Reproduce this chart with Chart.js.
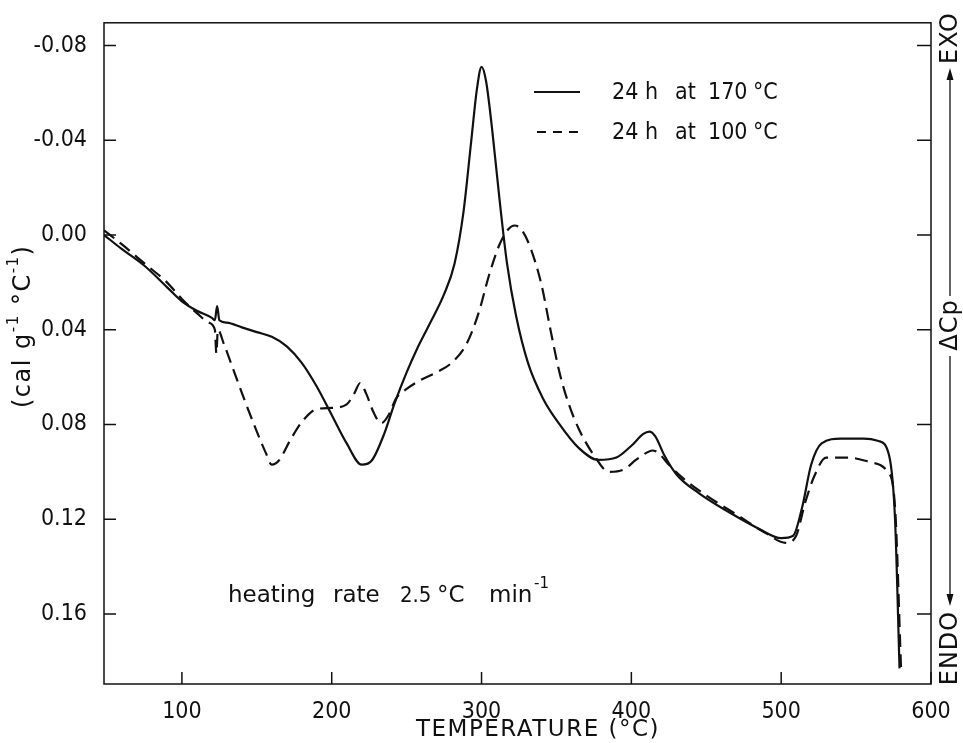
<!DOCTYPE html>
<html>
<head>
<meta charset="utf-8">
<script src="https://cdn.jsdelivr.net/npm/chart.js@4/dist/chart.umd.min.js"></script>
<style>
  html, body { margin: 0; padding: 0; background: #fff; }
  #wrap { width: 963px; height: 743px; }
</style>
</head>
<body>
<div id="wrap"><canvas id="dsc"></canvas></div>
<script>
// ── Data ───────────────────────────────────────────────────
// 24 h at 170 °C (solid)
const tempSolid = [48, 60, 75, 90, 100, 110, 120, 122, 123.5, 125, 130, 140, 150, 160, 170, 180, 190, 200, 210, 220, 227, 235, 242, 250, 257, 265, 275, 282, 288, 293, 297, 300, 303, 307, 312, 317, 323, 331, 341, 351, 365, 378, 390, 400, 408, 412, 416, 422, 430, 445, 465, 485, 500, 508, 514, 520, 527, 540, 555, 565, 572, 576, 579];
const cpSolid = [0.000, 0.006, 0.013, 0.022, 0.028, 0.032, 0.035, 0.036, 0.030, 0.036, 0.037, 0.039, 0.041, 0.043, 0.047, 0.054, 0.064, 0.076, 0.088, 0.097, 0.095, 0.084, 0.071, 0.058, 0.048, 0.038, 0.025, 0.012, -0.010, -0.039, -0.062, -0.071, -0.065, -0.045, -0.015, 0.012, 0.034, 0.054, 0.069, 0.079, 0.090, 0.095, 0.094, 0.089, 0.084, 0.083, 0.085, 0.093, 0.101, 0.109, 0.117, 0.124, 0.128, 0.127, 0.115, 0.097, 0.088, 0.086, 0.086, 0.087, 0.093, 0.120, 0.183];

// 24 h at 100 °C (dashed)
const tempDashed = [48, 60, 75, 90, 100, 110, 118, 122, 123, 124, 128, 135, 142, 150, 156, 160, 165, 172, 180, 190, 200, 210, 215, 219, 223, 228, 233, 238, 243, 250, 260, 270, 280, 290, 298, 305, 312, 318, 322, 327, 333, 340, 346, 352, 358, 365, 375, 385, 395, 403, 410, 414, 418, 425, 435, 450, 470, 490, 503, 510, 516, 522, 530, 545, 560, 571, 576, 580];
const cpDashed = [-0.002, 0.004, 0.012, 0.020, 0.027, 0.033, 0.037, 0.040, 0.050, 0.040, 0.046, 0.058, 0.070, 0.083, 0.092, 0.097, 0.095, 0.087, 0.079, 0.0735, 0.073, 0.0715, 0.067, 0.0625, 0.067, 0.075, 0.0795, 0.076, 0.069, 0.065, 0.061, 0.058, 0.054, 0.046, 0.033, 0.017, 0.004, -0.0025, -0.004, -0.002, 0.006, 0.021, 0.040, 0.058, 0.071, 0.082, 0.093, 0.100, 0.099, 0.095, 0.092, 0.091, 0.092, 0.097, 0.103, 0.110, 0.118, 0.126, 0.130, 0.127, 0.113, 0.102, 0.094, 0.094, 0.096, 0.100, 0.115, 0.183];

const xTicks = [100, 200, 300, 400, 500, 600];
const yTicks = [-0.08, -0.04, 0.00, 0.04, 0.08, 0.12, 0.16];

const NARROW = '"DejaVu Sans Condensed", "Liberation Sans Narrow", "DejaVu Sans", sans-serif';
const WIDE = '"DejaVu Sans", "Liberation Sans", sans-serif';

function toPoints(xs, ys) {
  return xs.map((x, i) => ({ x: x, y: ys[i] }));
}

// draws base text followed by raised small pieces: [[text, isSup], ...]
function drawRich(ctx, parts, x, y, size, family) {
  let cx = x;
  parts.forEach(([txt, sup]) => {
    ctx.font = (sup ? Math.round(size * 0.62) : size) + 'px ' + family;
    ctx.fillText(txt, cx, sup ? y - size * 0.42 : y);
    cx += ctx.measureText(txt).width;
  });
  return cx;
}

// ── Decorations: frame, inward ticks, titles, legend, notes ──
const decor = {
  id: 'decor',
  afterDraw(chart) {
    const ctx = chart.ctx;
    const a = chart.chartArea;
    const xs = chart.scales.x;
    const ys = chart.scales.y;
    ctx.save();
    ctx.strokeStyle = '#111';
    ctx.fillStyle = '#111';
    ctx.lineWidth = 1.5;
    ctx.strokeRect(a.left, a.top, a.right - a.left, a.bottom - a.top);

    // inward tick marks
    ctx.beginPath();
    xTicks.forEach(v => {
      const px = xs.getPixelForValue(v);
      ctx.moveTo(px, a.bottom);
      ctx.lineTo(px, a.bottom - 12);
    });
    yTicks.forEach(v => {
      const py = ys.getPixelForValue(v);
      ctx.moveTo(a.left, py);
      ctx.lineTo(a.left + 12, py);
      ctx.moveTo(a.right, py);
      ctx.lineTo(a.right - 14, py);
    });
    ctx.stroke();

    ctx.textBaseline = 'middle';

    // x axis title
    ctx.textAlign = 'center';
    ctx.font = '23px ' + WIDE;
    ctx.letterSpacing = '1.5px';
    ctx.fillText('TEMPERATURE (°C)', 538, 730);

    // y axis title, rotated, with superscripts
    ctx.save();
    ctx.translate(24, 322);
    ctx.rotate(-Math.PI / 2);
    ctx.textAlign = 'left';
    ctx.letterSpacing = '1.5px';
    drawRich(ctx, [['(cal g', false], ['-1', true], [' °C', false], ['-1', true], [')', false]], -86, 0, 24, WIDE);
    ctx.restore();

    // right side: EXO / ΔCp / ENDO
    const rx = 951;
    ctx.textAlign = 'center';
    ctx.font = '24px ' + WIDE;
    ctx.letterSpacing = '1px';
    [['EXO', 38], ['ΔCp', 325], ['ENDO', 648]].forEach(([t, cy]) => {
      ctx.save();
      ctx.translate(rx, cy);
      ctx.rotate(-Math.PI / 2);
      ctx.fillText(t, 0, 0);
      ctx.restore();
    });

    ctx.lineWidth = 1.3;
    ctx.beginPath();
    ctx.moveTo(rx - 1, 296); ctx.lineTo(rx - 1, 76);
    ctx.moveTo(rx - 1, 356); ctx.lineTo(rx - 1, 598);
    ctx.stroke();
    ctx.beginPath();
    ctx.moveTo(rx - 1, 68); ctx.lineTo(rx - 4.5, 80); ctx.lineTo(rx + 2.5, 80); ctx.closePath();
    ctx.moveTo(rx - 1, 606); ctx.lineTo(rx - 4.5, 594); ctx.lineTo(rx + 2.5, 594); ctx.closePath();
    ctx.fill();

    // legend
    ctx.lineWidth = 2.2;
    ctx.beginPath();
    ctx.moveTo(534, 92); ctx.lineTo(580, 92);
    ctx.stroke();
    ctx.setLineDash([9, 7]);
    ctx.beginPath();
    ctx.moveTo(537, 132); ctx.lineTo(580, 132);
    ctx.stroke();
    ctx.setLineDash([]);
    ctx.textAlign = 'left';
    ctx.letterSpacing = '0px';
    ctx.font = '23px ' + NARROW;
    [['24 h', 612], ['at', 675], ['170', 708], ['°C', 753]].forEach(([t, x]) => ctx.fillText(t, x, 93));
    [['24 h', 612], ['at', 675], ['100', 708], ['°C', 753]].forEach(([t, x]) => ctx.fillText(t, x, 133));

    // heating rate note
    ctx.font = '23px ' + WIDE;
    [['heating', 228], ['rate', 333], ['°C', 437], ['min', 489]].forEach(([t, x]) => ctx.fillText(t, x, 596));
    ctx.font = '22px ' + NARROW;
    ctx.fillText('2.5', 400, 596);
    ctx.font = '15px ' + WIDE;
    ctx.fillText('-1', 534, 584);
    ctx.restore();
  }
};

const chart = new Chart(document.getElementById('dsc'), {
  type: 'line',
  data: {
    datasets: [
      {
        label: '24 h at 170 °C',
        data: toPoints(tempSolid, cpSolid),
        borderColor: '#111',
        borderWidth: 2.2,
        pointRadius: 0,
        cubicInterpolationMode: 'monotone',
        fill: false
      },
      {
        label: '24 h at 100 °C',
        data: toPoints(tempDashed, cpDashed),
        borderColor: '#111',
        borderWidth: 2.2,
        borderDash: [13, 7],
        pointRadius: 0,
        cubicInterpolationMode: 'monotone',
        fill: false
      }
    ]
  },
  options: {
    responsive: true,
    maintainAspectRatio: false,
    animation: false,
    layout: { padding: { top: 14, right: 32, left: 0, bottom: 0 } },
    plugins: {
      legend: { display: false },
      tooltip: { enabled: false }
    },
    scales: {
      x: {
        type: 'linear',
        min: 48,
        max: 600,
        grid: { display: false },
        border: { display: false },
        afterBuildTicks: s => { s.ticks = xTicks.map(v => ({ value: v })); },
        afterFit: s => { s.height = 59; },
        ticks: {
          color: '#111',
          padding: 6,
          maxRotation: 0,
          font: { family: NARROW, size: 23 },
          callback: v => String(v)
        }
      },
      y: {
        type: 'linear',
        reverse: true,
        min: -0.0896,
        max: 0.1896,
        grid: { display: false },
        border: { display: false },
        afterBuildTicks: s => { s.ticks = yTicks.map(v => ({ value: v })); },
        afterFit: s => { s.width = 104; },
        ticks: {
          color: '#111',
          padding: 9,
          font: { family: NARROW, size: 23 },
          callback: v => v.toFixed(2)
        }
      }
    }
  },
  plugins: [decor]
});
</script>
</body>
</html>
